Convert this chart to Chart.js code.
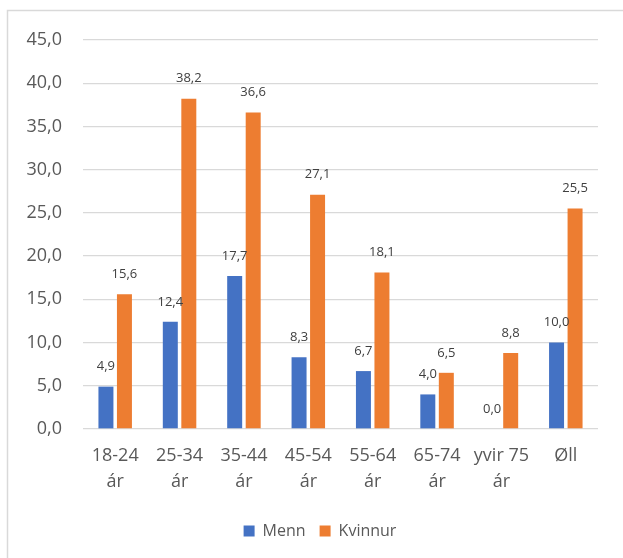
<!DOCTYPE html>
<html>
<head>
<meta charset="utf-8">
<script src="https://cdn.jsdelivr.net/npm/chart.js@4/dist/chart.umd.min.js"></script>
<style>
  html, body { margin: 0; padding: 0; background: #ffffff; }
  #wrap { position: relative; width: 623px; height: 558px; }
  canvas { display: block; }
</style>
</head>
<body>
<div id="wrap"><canvas id="chart" width="623" height="558"></canvas></div>
<script>
// Age groups (two-line category labels)
const categories = [
  ['18-24', 'ár'],
  ['25-34', 'ár'],
  ['35-44', 'ár'],
  ['45-54', 'ár'],
  ['55-64', 'ár'],
  ['65-74', 'ár'],
  ['yvir 75', 'ár'],
  ['Øll']
];

// Percentages per group
const menn = [4.9, 12.4, 17.7, 8.3, 6.7, 4.0, 0.0, 10.0];
const kvinnur = [15.6, 38.2, 36.6, 27.1, 18.1, 6.5, 8.8, 25.5];

const seriesNames = ['Menn', 'Kvinnur'];
const yTicks = { min: 0, max: 45, step: 5 };

const FONT = '"Open Sans", "Noto Sans", sans-serif';
const fmt = v => Number(v).toFixed(1).replace('.', ',');

// Thin frame along the left and top edges
const framePlugin = {
  id: 'frame',
  beforeDraw(chart) {
    const ctx = chart.ctx;
    ctx.save();
    ctx.fillStyle = '#ffffff';
    ctx.fillRect(0, 0, chart.width, chart.height);
    ctx.strokeStyle = '#d9d9d9';
    ctx.lineWidth = 1.5;
    ctx.beginPath();
    ctx.moveTo(7.5, chart.height);
    ctx.lineTo(7.5, 10.5);
    ctx.lineTo(chart.width, 10.5);
    ctx.stroke();
    ctx.restore();
  }
};

// Centre the legend under the frame rather than the whole canvas
const legendShift = {
  id: 'legendShift',
  afterLayout(chart) {
    if (chart.legend) chart.legend.left = 42;
  }
};

// Value labels above each bar
const valueLabels = {
  id: 'valueLabels',
  afterDatasetsDraw(chart) {
    const ctx = chart.ctx;
    ctx.save();
    ctx.font = '13px ' + FONT;
    ctx.fillStyle = '#404040';
    ctx.textAlign = 'center';
    ctx.textBaseline = 'middle';
    chart.data.datasets.forEach((ds, i) => {
      const meta = chart.getDatasetMeta(i);
      meta.data.forEach((bar, j) => {
        ctx.fillText(fmt(ds.data[j]), bar.x, bar.y - 20);
      });
    });
    ctx.restore();
  }
};

new Chart(document.getElementById('chart'), {
  type: 'bar',
  data: {
    labels: categories,
    datasets: [
      { label: seriesNames[0], data: menn, backgroundColor: '#4472C4' },
      { label: seriesNames[1], data: kvinnur, backgroundColor: '#ED7D31' }
    ]
  },
  options: {
    responsive: false,
    animation: false,
    devicePixelRatio: 1,
    categoryPercentage: 0.575,
    barPercentage: 0.81,
    layout: { padding: { left: 0, right: 25, top: 40, bottom: 9 } },
    plugins: {
      tooltip: { enabled: false },
      legend: {
        position: 'bottom',
        padding: 14,
        labels: {
          boxWidth: 11,
          boxHeight: 11,
          padding: 14,
          color: '#595959',
          font: { family: FONT, size: 16 }
        }
      }
    },
    scales: {
      x: {
        grid: { display: false, drawTicks: false },
        border: { display: false },
        ticks: {
          padding: 14,
          color: '#595959',
          maxRotation: 0,
          autoSkip: false,
          font: { family: FONT, size: 18, lineHeight: '26px' }
        },
        afterFit(scale) { scale.height = 80; }
      },
      y: {
        min: yTicks.min,
        max: yTicks.max,
        grid: { color: '#d9d9d9', lineWidth: 1.3, drawTicks: false },
        border: { display: false },
        ticks: {
          stepSize: yTicks.step,
          padding: 21,
          color: '#595959',
          font: { family: FONT, size: 18 },
          callback: v => fmt(v)
        },
        afterFit(scale) { scale.width = 83; }
      }
    }
  },
  plugins: [framePlugin, legendShift, valueLabels]
});
</script>
</body>
</html>
